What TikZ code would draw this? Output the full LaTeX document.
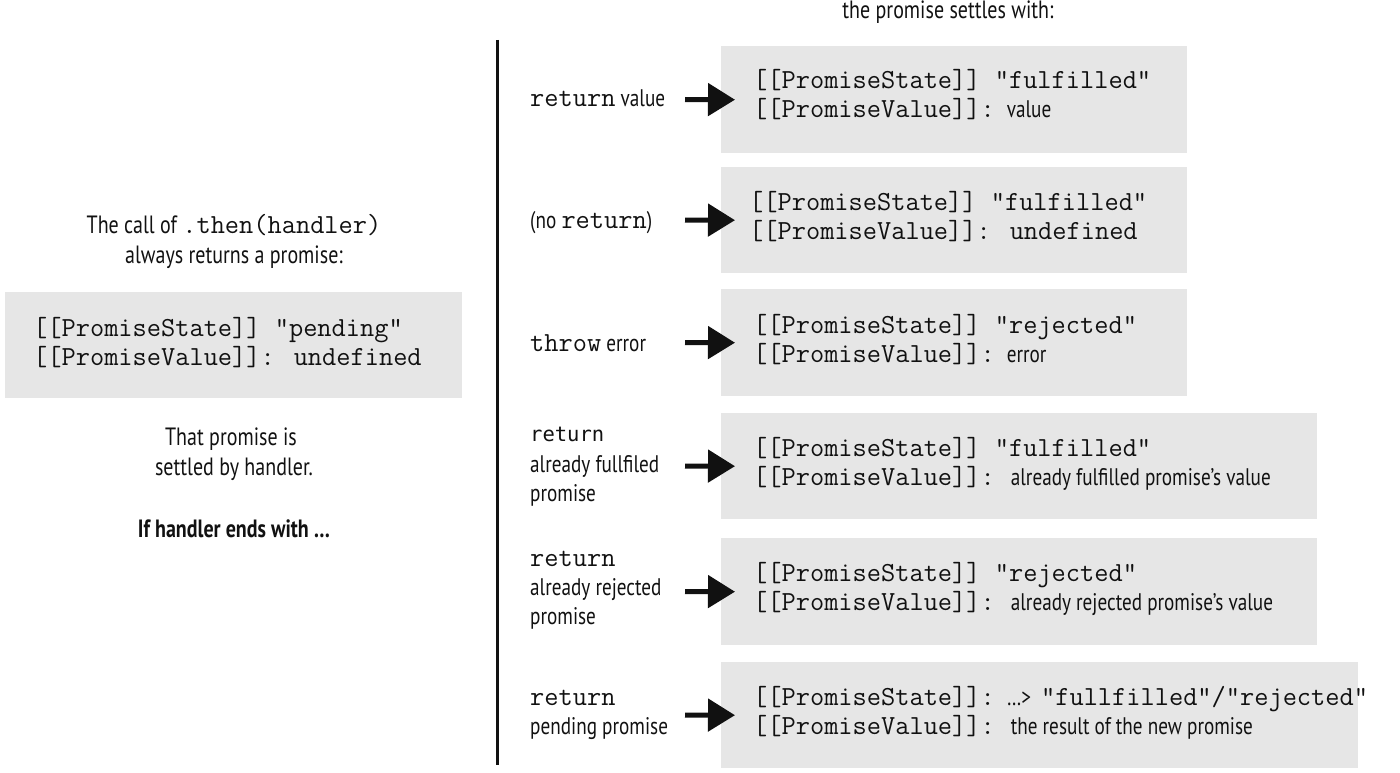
\documentclass[tikz,border=0pt]{standalone}
\usepackage{fontspec}
\setmainfont{PT Sans}[FakeStretch=0.8]
\newfontfamily\dejamono{DejaVu Sans Mono}
\usetikzlibrary{arrows.meta}
\definecolor{boxgray}{HTML}{E6E6E6}
\definecolor{ink}{HTML}{111111}
\newcommand\codett[1]{{\fontsize{27.6pt}{29pt}\ttfamily #1}}
\newcommand\sanstxt[1]{{\fontsize{24pt}{29pt}\rmfamily #1}}
\begin{document}
\begin{tikzpicture}[x=1pt,y=-1pt,
  graybox/.style={fill=boxgray, inner sep=0pt, anchor=north west},
  captxt/.style={font=\fontsize{25pt}{30pt}\selectfont, inner sep=0pt, anchor=base, text=ink},
  lbltxt/.style={font=\fontsize{24pt}{30pt}\selectfont, inner sep=0pt, anchor=base west, text=ink},
  codetxt/.style={font=\fontsize{27.6pt}{29pt}\ttfamily, inner sep=0pt, anchor=base west, text=ink},
  arrline/.style={draw=ink, line width=5pt, -{Triangle[length=27pt,width=32pt]}},
  ]
\useasboundingbox (0,0) rectangle (1400,773);
% boxes
\node[graybox, minimum width=457pt, minimum height=106pt] (lb) at (5,292) {};
\node[graybox, minimum width=466pt, minimum height=107pt] (b1) at (721,46) {};
\node[graybox, minimum width=466pt, minimum height=106pt] (b2) at (721,167) {};
\node[graybox, minimum width=466pt, minimum height=107pt] (b3) at (721,289) {};
\node[graybox, minimum width=596pt, minimum height=106pt] (b4) at (721,413) {};
\node[graybox, minimum width=596pt, minimum height=107pt] (b5) at (721,538) {};
\node[graybox, minimum width=637pt, minimum height=106pt] (b6) at (721,662) {};
% left column
\node[captxt] (c1) at (234,233) {The call of \codett{.then(handler)}};
\node[captxt] (c2) at (234,263) {always returns a promise:};
\node[codetxt] (l1) at (33,336) {[[PromiseState]] "pending"};
\node[codetxt] (l2) at (33,365) {[[PromiseValue]]: undefined};
\node[captxt] (c3) at (231,445) {That promise is};
\node[captxt] (c4) at (234,475) {settled by handler.};
\node[captxt, font=\fontsize{25pt}{30pt}\selectfont\bfseries] (c5) at (234,537) {If handler ends with …};
% header
\node[captxt] (top) at (948,19) {the promise settles with:};
% divider
\coordinate (dtop) at (497,40);
\coordinate (dbot) at (497,765);
\draw[ink, line width=3pt] (dtop) -- (dbot);
% labels
\node[lbltxt] (r1) at (530,107) {\codett{return} value};
\node[lbltxt] (r2) at (530,228) {(no \codett{return})};
\node[lbltxt] (r3) at (530,351) {\codett{throw} error};
\node[lbltxt] (r4a) at (530,441) {{\dejamono\fontsize{20.5pt}{30pt}\selectfont return}};
\node[lbltxt] (r4b) at (530,472) {already fullfiled};
\node[lbltxt] (r4c) at (530,501) {promise};
\node[lbltxt] (r5a) at (530,566) {\codett{return}};
\node[lbltxt] (r5b) at (530,595) {already rejected};
\node[lbltxt] (r5c) at (530,624) {promise};
\node[lbltxt] (r6a) at (530,705) {\codett{return}};
\node[lbltxt] (r6b) at (530,734) {pending promise};
% arrows
\coordinate (s1) at (685,99.5);
\coordinate (s2) at (685,220);
\coordinate (s3) at (685,342.5);
\coordinate (s4) at (685,466);
\coordinate (s5) at (685,591.5);
\coordinate (s6) at (685,715);
\draw[arrline] (s1) -- ([xshift=14pt]b1.west);
\draw[arrline] (s2) -- ([xshift=14pt]b2.west);
\draw[arrline] (s3) -- ([xshift=14pt]b3.west);
\draw[arrline] (s4) -- ([xshift=14pt]b4.west);
\draw[arrline] (s5) -- ([xshift=14pt]b5.west);
\draw[arrline] (s6) -- ([xshift=14pt]b6.west);
% box texts
\node[codetxt] (t1a) at (753,89) {[[PromiseState]] "fulfilled"};
\node[codetxt] (t1b) at (753,118) {[[PromiseValue]]:\hspace{12pt}\sanstxt{value}};
\node[codetxt] (t2a) at (749,210) {[[PromiseState]] "fulfilled"};
\node[codetxt] (t2b) at (749,239) {[[PromiseValue]]: undefined};
\node[codetxt] (t3a) at (753,333) {[[PromiseState]] "rejected"};
\node[codetxt] (t3b) at (753,362) {[[PromiseValue]]:\hspace{12pt}\sanstxt{error}};
\node[codetxt] (t4a) at (753,456) {[[PromiseState]] "fulfilled"};
\node[codetxt] (t4b) at (753,485) {[[PromiseValue]]:\hspace{16pt}\sanstxt{already fulfilled promise’s value}};
\node[codetxt] (t5a) at (753,581) {[[PromiseState]] "rejected"};
\node[codetxt] (t5b) at (753,610) {[[PromiseValue]]:\hspace{16pt}\sanstxt{already rejected promise’s value}};
\node[codetxt] (t6a) at (753,705) {[[PromiseState]]:\hspace{12pt}\sanstxt{…>}\hspace{10pt}"fullfilled"/"rejected"};
\node[codetxt] (t6b) at (753,734) {[[PromiseValue]]:\hspace{16pt}\sanstxt{the result of the new promise}};
\end{tikzpicture}
\end{document}
